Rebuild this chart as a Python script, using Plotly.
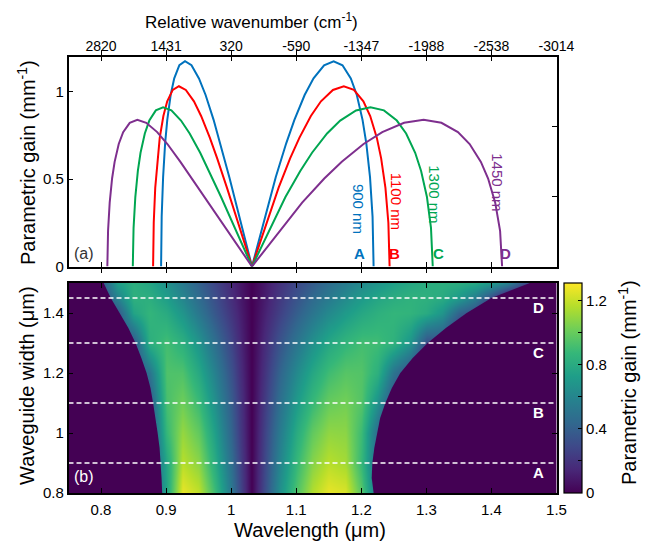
import plotly.graph_objects as go

# ---------------- data ----------------
# panel (a): parametric gain (mm^-1) versus wavelength (um) for four waveguide widths
lam_A = [0.8923, 0.8932, 0.8954, 0.8985, 0.9018, 0.9070, 0.9125, 0.9204, 0.9291, 0.9390, 0.9505,
         0.9607, 0.9730, 0.9833, 0.9971, 1.032, 1.0686, 1.0846, 1.0972, 1.1129, 1.1266, 1.1428, 1.1575,
         1.1711, 1.1839, 1.1931, 1.2019, 1.2077, 1.2134, 1.2173, 1.2189]
gain_A = [0, 0.285, 0.511, 0.704, 0.838, 0.980, 1.075, 1.150, 1.173, 1.150, 1.075,
          0.980, 0.838, 0.704, 0.511, 0, 0.511, 0.704, 0.838, 0.980, 1.075, 1.150, 1.173,
          1.150, 1.075, 0.980, 0.838, 0.704, 0.511, 0.285, 0]

lam_B = [0.8800, 0.8810, 0.8833, 0.8867, 0.8902, 0.8958, 0.9017, 0.9102, 0.9197, 0.9303, 0.9428,
         0.9538, 0.9673, 0.9785, 0.9936, 1.032, 1.0728, 1.0906, 1.1048, 1.1225, 1.1380, 1.1564, 1.1731,
         1.1886, 1.2032, 1.2137, 1.2239, 1.2305, 1.2371, 1.2416, 1.2435]
gain_B = [0, 0.250, 0.449, 0.618, 0.735, 0.860, 0.944, 1.009, 1.030, 1.009, 0.944,
          0.860, 0.735, 0.618, 0.449, 0, 0.449, 0.618, 0.735, 0.860, 0.944, 1.009, 1.030,
          1.009, 0.944, 0.860, 0.735, 0.618, 0.449, 0.250, 0]

lam_C = [0.8488, 0.8500, 0.8527, 0.8566, 0.8607, 0.8673, 0.8742, 0.8842, 0.8954, 0.9081, 0.9229,
         0.9362, 0.9524, 0.9661, 0.9845, 1.032, 1.0834, 1.1062, 1.1243, 1.1474, 1.1676, 1.1919, 1.2141,
         1.2348, 1.2546, 1.2689, 1.2828, 1.2919, 1.3009, 1.3071, 1.3098]
gain_C = [0, 0.221, 0.397, 0.546, 0.650, 0.760, 0.834, 0.892, 0.910, 0.892, 0.834,
          0.760, 0.650, 0.546, 0.397, 0, 0.397, 0.546, 0.650, 0.760, 0.834, 0.892, 0.910,
          0.892, 0.834, 0.760, 0.650, 0.546, 0.397, 0.221, 0]

lam_D = [0.8097, 0.8108, 0.8133, 0.8170, 0.8209, 0.8272, 0.8340, 0.8441, 0.8558, 0.8695, 0.8863,
         0.9020, 0.9220, 0.9396, 0.9642, 1.032, 1.1091, 1.1431, 1.1700, 1.2035, 1.2322, 1.2658, 1.2958,
         1.3231, 1.3485, 1.3665, 1.3838, 1.3949, 1.4058, 1.4133, 1.4164]
gain_D = [0, 0.204, 0.365, 0.503, 0.598, 0.700, 0.768, 0.821, 0.838, 0.821, 0.768,
          0.700, 0.598, 0.503, 0.365, 0, 0.365, 0.503, 0.598, 0.700, 0.768, 0.821, 0.838,
          0.821, 0.768, 0.700, 0.598, 0.503, 0.365, 0.204, 0]

curve_names = ["900 nm", "1100 nm", "1300 nm", "1450 nm"]
curve_letters = ["A", "B", "C", "D"]
marked_width = [0.9, 1.1, 1.3, 1.45]

wavelength_ticks = [0.8, 0.9, 1.0, 1.1, 1.2, 1.3, 1.4, 1.5]
wavelength_ticktext = ["0.8", "0.9", "1", "1.1", "1.2", "1.3", "1.4", "1.5"]
wavenumber_ticktext = ["2820", "1431", "320", "-590", "-1347", "-1988", "-2538", "-3014"]
gain_ticks = [0, 0.5, 1]
gain_ticktext = ["0", "0.5", "1"]
gain_right_ticks = [0.4, 0.8]
width_ticks = [0.8, 1.0, 1.2, 1.4]
width_ticktext = ["0.8", "1", "1.2", "1.4"]
cbar_ticks = [0, 0.2, 0.4, 0.6, 0.8, 1.0, 1.2]
cbar_ticktext = ["0", " ", "0.4", " ", "0.8", " ", "1.2"]

# panel (b): gain map versus wavelength and waveguide width
heat_lam = [0.75, 0.775, 0.8, 0.825, 0.85, 0.875, 0.9, 0.925, 0.95, 0.975, 1.0, 1.015, 1.032, 1.05,
            1.075, 1.1, 1.125, 1.15, 1.175, 1.2, 1.225, 1.25, 1.275, 1.3, 1.325, 1.35, 1.375, 1.4,
            1.425, 1.45, 1.475, 1.5]
heat_width = [0.8, 0.9, 1.0, 1.1, 1.2, 1.3, 1.4, 1.45, 1.5]
heat_row_080 = [0, 0, 0, 0, 0, 0.30, 0.76, 1.27, 1.19, 0.90, 0.52, 0.28, 0, 0.28, 0.65, 0.94, 1.16, 1.27,
                1.24, 0.96, 0.50, 0, 0, 0, 0, 0, 0, 0, 0, 0, 0, 0]
heat_row_090 = [0, 0, 0, 0, 0, 0.30, 0.77, 1.17, 1.08, 0.81, 0.47, 0.25, 0, 0.26, 0.59, 0.87, 1.07, 1.17,
                1.13, 0.87, 0.45, 0, 0, 0, 0, 0, 0, 0, 0, 0, 0, 0]
heat_row_100 = [0, 0, 0, 0, 0, 0.30, 0.87, 1.10, 0.99, 0.74, 0.42, 0.22, 0, 0.24, 0.54, 0.80, 0.99, 1.09,
                1.08, 0.89, 0.45, 0, 0, 0, 0, 0, 0, 0, 0, 0, 0, 0]
heat_row_110 = [0, 0, 0, 0, 0, 0.35, 0.92, 1.02, 0.89, 0.66, 0.38, 0.20, 0, 0.21, 0.48, 0.71, 0.88, 1.00,
                1.03, 0.95, 0.66, 0.30, 0, 0, 0, 0, 0, 0, 0, 0, 0, 0]
heat_row_120 = [0, 0, 0, 0, 0.30, 0.50, 0.94, 0.94, 0.79, 0.58, 0.33, 0.17, 0, 0.18, 0.42, 0.62, 0.78, 0.90,
                0.96, 0.95, 0.83, 0.50, 0.30, 0, 0, 0, 0, 0, 0, 0, 0, 0]
heat_row_130 = [0, 0, 0, 0.30, 0.35, 0.82, 0.91, 0.83, 0.68, 0.48, 0.27, 0.14, 0, 0.15, 0.34, 0.51, 0.66, 0.78,
                0.86, 0.91, 0.90, 0.84, 0.68, 0.31, 0.30, 0, 0, 0, 0, 0, 0, 0]
heat_row_140 = [0, 0, 0.30, 0.35, 0.76, 0.86, 0.80, 0.68, 0.52, 0.36, 0.20, 0.11, 0, 0.11, 0.25, 0.39, 0.51, 0.62,
                0.71, 0.78, 0.83, 0.86, 0.85, 0.80, 0.68, 0.42, 0.30, 0, 0, 0, 0, 0]
heat_row_145 = [0, 0, 0.30, 0.58, 0.83, 0.82, 0.73, 0.60, 0.46, 0.32, 0.17, 0.09, 0, 0.09, 0.22, 0.34, 0.45, 0.54,
                0.63, 0.71, 0.77, 0.81, 0.84, 0.83, 0.80, 0.71, 0.55, 0.30, 0, 0, 0, 0]
heat_row_150 = [0, 0.30, 0.35, 0.73, 0.82, 0.77, 0.66, 0.54, 0.41, 0.28, 0.15, 0.08, 0, 0.08, 0.19, 0.29, 0.38, 0.47,
                0.55, 0.62, 0.68, 0.74, 0.78, 0.81, 0.82, 0.81, 0.78, 0.70, 0.58, 0.32, 0.30, 0]

# edges of the gain region in panel (b)
edge_width = [0.80, 0.85, 0.90, 0.95, 1.00, 1.05, 1.10, 1.15, 1.20, 1.25, 1.30, 1.35, 1.40, 1.45, 1.50]
edge_left = [0.894, 0.893, 0.892, 0.890, 0.887, 0.884, 0.880, 0.876, 0.870, 0.862, 0.853, 0.842, 0.829, 0.815, 0.804]
edge_right = [1.219, 1.216, 1.217, 1.220, 1.224, 1.229, 1.237, 1.247, 1.260, 1.279, 1.302, 1.330, 1.362, 1.400, 1.459]

# ---------------- figure ----------------
W, H = 649, 542
OFF = 8  # page body margin: figure origin sits at (8, 8) in the window
FONT = "Liberation Sans, Arial, Helvetica, sans-serif"
colors = ["#0072BD", "#FF0000", "#00A651", "#7E2F8E"]
bg0 = "#440154"

X0, X1 = 0.75, 1.5
G0, G1 = 0.0, 1.2
Y0, Y1 = 0.8, 1.5


def px_x(p):
    return (p - OFF) / W


def px_y(p):
    return (H - (p - OFF)) / H


dom_x = [px_x(68.5), px_x(556.5)]
dom_top = [px_y(266.5), px_y(56.5)]
dom_bot = [px_y(493), px_y(283)]

fig = go.Figure()

for lam, g, c in zip([lam_A, lam_B, lam_C, lam_D], [gain_A, gain_B, gain_C, gain_D], colors):
    fig.add_trace(go.Scatter(x=lam, y=g, mode="lines", line=dict(color=c, width=2),
                             xaxis="x", yaxis="y", hoverinfo="skip", showlegend=False))
# helper trace for right-hand tick axis of panel (a)
fig.add_trace(go.Scatter(x=[X0], y=[G0], mode="markers", marker=dict(opacity=0), xaxis="x", yaxis="y3",
                         hoverinfo="skip", showlegend=False))

heat_gain = [heat_row_080, heat_row_090, heat_row_100, heat_row_110, heat_row_120,
             heat_row_130, heat_row_140, heat_row_145, heat_row_150]
fig.add_trace(go.Heatmap(
    x=heat_lam, y=heat_width, z=heat_gain, zsmooth="best", colorscale="Viridis",
    zmin=0, zmax=1.31, xaxis="x2", yaxis="y2", hoverinfo="skip",
    colorbar=dict(x=px_x(564), xanchor="left", xpad=0, y=(dom_bot[0] + dom_bot[1]) / 2, yanchor="middle",
                  ypad=0, len=dom_bot[1] - dom_bot[0], lenmode="fraction", thickness=18,
                  thicknessmode="pixels", outlinewidth=1.2, outlinecolor="black",
                  tickvals=cbar_ticks, ticktext=cbar_ticktext, ticks="inside", ticklen=4,
                  tickcolor="black", tickwidth=1.2, tickfont=dict(family=FONT, size=15, color="black")),
))
# outside-of-band region (zero gain)
fig.add_trace(go.Scatter(x=[X0] + edge_left + [X0], y=[edge_width[0]] + edge_width + [edge_width[-1]],
                         mode="lines", fill="toself", fillcolor=bg0, line=dict(width=0, color=bg0),
                         xaxis="x2", yaxis="y2", hoverinfo="skip", showlegend=False))
fig.add_trace(go.Scatter(x=[X1] + edge_right + [X1], y=[edge_width[0]] + edge_width + [edge_width[-1]],
                         mode="lines", fill="toself", fillcolor=bg0, line=dict(width=0, color=bg0),
                         xaxis="x2", yaxis="y2", hoverinfo="skip", showlegend=False))
for w in marked_width:
    fig.add_trace(go.Scatter(x=[X0, X1], y=[w, w], mode="lines",
                             line=dict(color="white", width=1.6, dash="5px,3px"),
                             xaxis="x2", yaxis="y2", hoverinfo="skip", showlegend=False))

tickfont = dict(family=FONT, size=15, color="black")
axis_common = dict(showline=True, linecolor="black", linewidth=1.5, ticks="inside", ticklen=5,
                   tickwidth=1.2, tickcolor="black", showgrid=False, zeroline=False,
                   automargin=False)

fig.update_layout(
    width=W, height=H, margin=dict(l=0, r=0, t=0, b=0),
    paper_bgcolor="white", plot_bgcolor="white", showlegend=False,
    font=dict(family=FONT, color="black"),
    xaxis=dict(domain=dom_x, anchor="y", range=[X0, X1], side="top", tickvals=wavelength_ticks,
               ticktext=wavenumber_ticktext, mirror="allticks", ticklabelstandoff=-2,
               tickfont=dict(family=FONT, size=14, color="black"), **axis_common),
    yaxis=dict(domain=dom_top, anchor="x", range=[G0, G1], tickvals=gain_ticks, ticktext=gain_ticktext,
               mirror=True, tickfont=tickfont, **axis_common),
    yaxis3=dict(overlaying="y", anchor="x", side="right", range=[G0, G1], tickvals=gain_right_ticks,
                showticklabels=False, ticks="inside", ticklen=5, tickwidth=1.2, tickcolor="black",
                showline=False, showgrid=False, zeroline=False),
    xaxis2=dict(domain=dom_x, anchor="y2", range=[X0, X1], tickvals=wavelength_ticks,
                ticktext=wavelength_ticktext, mirror="allticks", ticklabelstandoff=2,
                tickfont=tickfont, **axis_common),
    yaxis2=dict(domain=dom_bot, anchor="x2", range=[Y0, Y1], tickvals=width_ticks, ticktext=width_ticktext,
                mirror="allticks", tickfont=tickfont, **axis_common),
)

ann = []


def paper_text(text, px, py, size, color="black", angle=0):
    return dict(text=text, x=px_x(px), y=px_y(py), xref="paper", yref="paper", xanchor="center",
                yanchor="middle", showarrow=False, textangle=angle,
                font=dict(family=FONT, size=size, color=color))


# axis titles
ann.append(paper_text("Relative wavenumber (cm<sup>-1</sup>)", 251, 21, 17))
ann.append(paper_text("Parametric gain (mm<sup>-1</sup>)", 26, 163, 20, angle=-90))
ann.append(paper_text("Waveguide width (μm)", 27, 386, 20, angle=-90))
ann.append(paper_text("Wavelength (μm)", 310, 530, 20))
ann.append(paper_text("Parametric gain (mm<sup>-1</sup>)", 627, 383, 20, angle=-90))
# panel tags
ann.append(paper_text("(a)", 84, 253, 16, color="#333333"))
ann.append(paper_text("(b)", 84, 477, 16, color="white"))
# curve labels (panel a)
name_pos = [(1.196, 0.331), (1.2546, 0.371), (1.3123, 0.411), (1.41, 0.482)]
letter_pos = [1.1965, 1.2515, 1.3185, 1.4215]
for name, letter, (lx, ly), ltx, c in zip(curve_names, curve_letters, name_pos, letter_pos, colors):
    ann.append(dict(text=name, x=lx, y=ly, xref="x", yref="y", showarrow=False, textangle=90,
                    xanchor="center", yanchor="middle", font=dict(family=FONT, size=15, color=c)))
    ann.append(dict(text="<b>" + letter + "</b>", x=ltx, y=0.072, xref="x", yref="y", showarrow=False,
                    xanchor="center", yanchor="middle", font=dict(family=FONT, size=15, color=c)))
# letters on the dashed lines (panel b)
for letter, w in zip(curve_letters, marked_width):
    ann.append(dict(text="<b>" + letter + "</b>", x=1.472, y=w - 0.032, xref="x2", yref="y2", showarrow=False,
                    xanchor="center", yanchor="middle", font=dict(family=FONT, size=15, color="white")))
fig.update_layout(annotations=ann)

fig.write_html("out.html")
